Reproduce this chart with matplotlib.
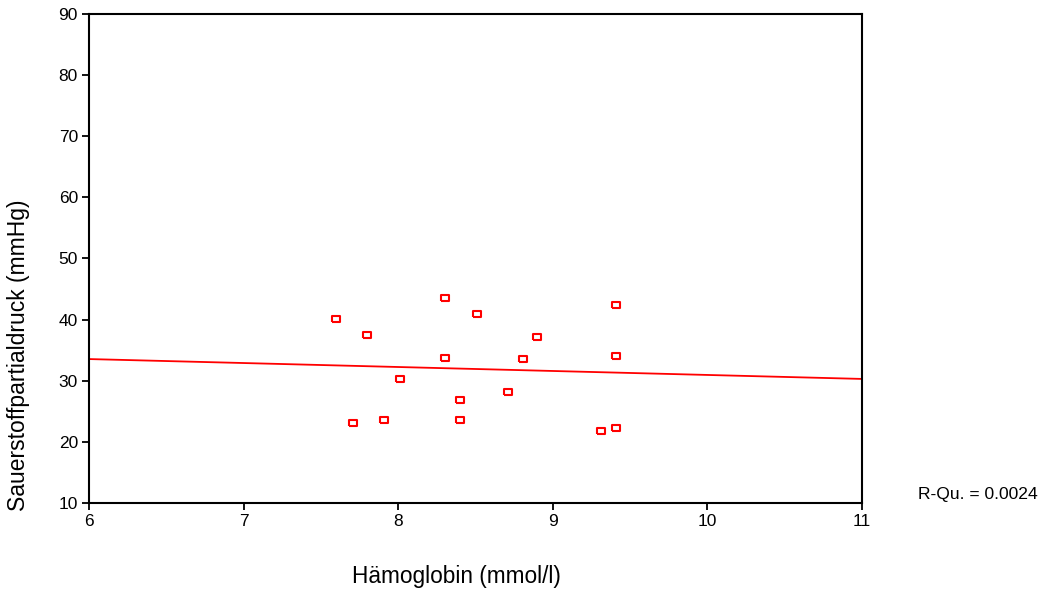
import numpy as np
import matplotlib
matplotlib.use("Agg")
import matplotlib.pyplot as plt

plt.rcParams['font.family'] = ['Liberation Sans', 'DejaVu Sans']

# Messwerte
haemoglobin = [7.6, 7.8, 7.71, 7.91, 8.01, 8.3, 8.3, 8.4, 8.4, 8.51, 8.71, 8.81, 8.9, 9.31, 9.41, 9.41, 9.41]
po2 = [40.1, 37.5, 23.1, 23.6, 30.3, 43.5, 33.7, 26.9, 23.6, 40.9, 28.2, 33.6, 37.2, 21.8, 22.3, 34.05, 42.4]

# Regressionsgerade
fit_x = [6, 11]
fit_y = [33.55, 30.3]
r_qu = 0.0024

x_ticks = [6, 7, 8, 9, 10, 11]
y_ticks = [10, 20, 30, 40, 50, 60, 70, 80, 90]

fig = plt.figure(figsize=(10.45, 5.92), dpi=100)
ax = fig.add_axes([0.0852, 0.1503, 0.7397, 0.8261])

box = [(-1.3, -1), (1.3, -1), (1.3, 1), (-1.3, 1), (-1.3, -1)]
ax.plot(haemoglobin, po2, linestyle='none', marker=box, markersize=6,
        markerfacecolor='white', markeredgecolor='red', markeredgewidth=1.5)
ax.plot(fit_x, fit_y, color='red', linewidth=1.3)

ax.set_xlim(6, 11)
ax.set_ylim(10, 90)
ax.set_xticks(x_ticks)
ax.set_yticks(y_ticks)
ax.tick_params(direction='out', length=5, width=1.3, labelsize=12.5, colors='black', pad=3)
for s in ax.spines.values():
    s.set_linewidth(1.5)

fig.text(456 / 1045, 1 - 577 / 592, 'Hämoglobin (mmol/l)', ha='center', va='center', fontsize=16.3)
fig.text(19 / 1045, 1 - 355 / 592, 'Sauerstoffpartialdruck (mmHg)', ha='center', va='center',
         rotation=90, fontsize=16.5)
fig.text(918 / 1045, 1 - 494 / 592, 'R-Qu. = %.4f' % r_qu, ha='left', va='center', fontsize=12.6)

fig.savefig('out.png', dpi=100)
